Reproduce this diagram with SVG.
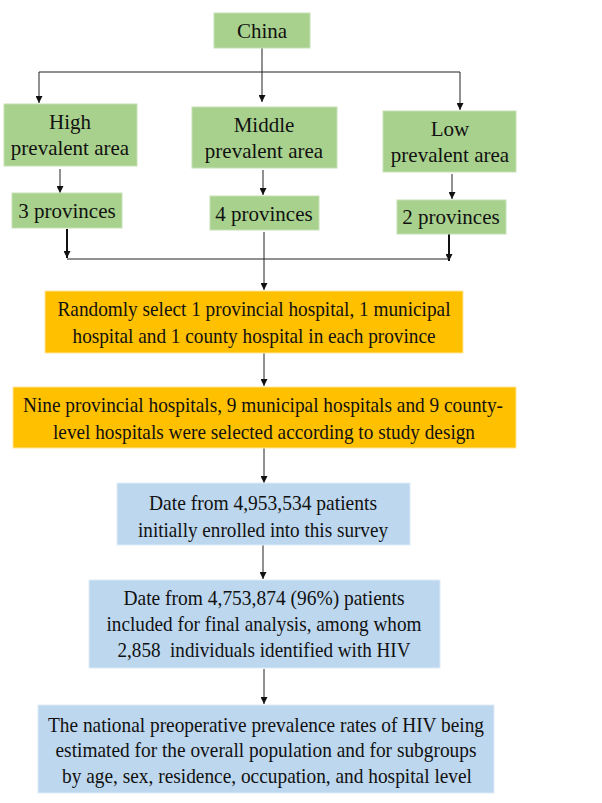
<svg xmlns="http://www.w3.org/2000/svg" width="602" height="803" viewBox="0 0 602 803">
<style>
text{font-family:"Liberation Serif","Times New Roman","DejaVu Serif",serif;font-size:21px;fill:#111;text-anchor:middle;white-space:pre}
.g{fill:#A9D18E;stroke:#C5E0B4;stroke-width:1}
.o{fill:#FFC000;stroke:#FFE699;stroke-width:1}
.b{fill:#BDD7EE;stroke:#DEEBF7;stroke-width:1}
.c{stroke:#222;stroke-width:1;fill:none}
.t{stroke:#111;stroke-width:2;fill:none}
</style>
<defs><marker id="a" viewBox="0 0 10 10" refX="10" refY="5" markerWidth="7" markerHeight="7" markerUnits="userSpaceOnUse" orient="auto"><path d="M0,0L10,5L0,10z" fill="#111"/></marker></defs>
<rect width="602" height="803" fill="#fff"/>
<g id="connectors">
<path class="c" d="M262,48V102" marker-end="url(#a)"/>
<path class="c" d="M39,72H460"/>
<path class="c" d="M39,72V103" marker-end="url(#a)"/>
<path class="c" d="M460,72V110" marker-end="url(#a)"/>
<path class="c" d="M60,169V193" marker-end="url(#a)"/>
<path class="c" d="M263,170V195" marker-end="url(#a)"/>
<path class="c" d="M452,174V199" marker-end="url(#a)"/>
<path class="t" d="M67,229V258" marker-end="url(#a)"/>
<path class="t" d="M449,234V261" marker-end="url(#a)"/>
<path class="c" d="M67,259H449"/>
<path class="c" d="M264,232V290" marker-end="url(#a)"/>
<path class="c" d="M264,353V386" marker-end="url(#a)"/>
<path class="c" d="M264,448V483" marker-end="url(#a)"/>
<path class="c" d="M263,545V579" marker-end="url(#a)"/>
<path class="c" d="M264,669V704" marker-end="url(#a)"/>
</g>
<g id="china"><rect class="g" x="214" y="13" width="96" height="35"/><text x="262" y="38">China</text></g>
<g id="high"><rect class="g" x="4" y="104" width="133" height="62"/><text x="70" y="129">High</text><text x="70" y="155">prevalent area</text></g>
<g id="middle"><rect class="g" x="192" y="107" width="145" height="61"/><text x="264" y="132">Middle</text><text x="264" y="158">prevalent area</text></g>
<g id="low"><rect class="g" x="383" y="111" width="133" height="61"/><text x="450" y="136">Low</text><text x="450" y="162">prevalent area</text></g>
<g id="p3"><rect class="g" x="12" y="193" width="110" height="35"/><text x="67" y="218">3 provinces</text></g>
<g id="p4"><rect class="g" x="210" y="196" width="109" height="34"/><text x="264" y="221">4 provinces</text></g>
<g id="p2"><rect class="g" x="397" y="200" width="109" height="34"/><text x="451" y="224">2 provinces</text></g>
<g id="select"><rect class="o" x="45" y="291" width="418" height="62"/>
<text x="254" y="316" textLength="393" lengthAdjust="spacingAndGlyphs">Randomly select 1 provincial hospital, 1 municipal</text>
<text x="254" y="343" textLength="363" lengthAdjust="spacingAndGlyphs">hospital and 1 county hospital in each province</text></g>
<g id="nine"><rect class="o" x="13" y="387" width="503" height="61"/>
<text x="263" y="412" textLength="480" lengthAdjust="spacingAndGlyphs">Nine provincial hospitals, 9 municipal hospitals and 9 county-</text>
<text x="264" y="439" textLength="422" lengthAdjust="spacingAndGlyphs">level hospitals were selected according to study design</text></g>
<g id="enrolled"><rect class="b" x="117" y="483" width="293" height="62"/>
<text x="263" y="510" textLength="228" lengthAdjust="spacingAndGlyphs">Date from 4,953,534 patients</text>
<text x="263" y="537" textLength="250" lengthAdjust="spacingAndGlyphs">initially enrolled into this survey</text></g>
<g id="final"><rect class="b" x="89" y="580" width="351" height="88"/>
<text x="264" y="605" textLength="281" lengthAdjust="spacingAndGlyphs">Date from 4,753,874 (96%) patients</text>
<text x="264" y="631" textLength="315" lengthAdjust="spacingAndGlyphs">included for final analysis, among whom</text>
<text x="264" y="657" textLength="293" lengthAdjust="spacingAndGlyphs" xml:space="preserve">2,858  individuals identified with HIV</text></g>
<g id="rates"><rect class="b" x="38" y="705" width="456" height="88"/>
<text x="266" y="732" textLength="436" lengthAdjust="spacingAndGlyphs">The national preoperative prevalence rates of HIV being</text>
<text x="266" y="757" textLength="421" lengthAdjust="spacingAndGlyphs">estimated for the overall population and for subgroups</text>
<text x="267" y="783" textLength="410" lengthAdjust="spacingAndGlyphs">by age, sex, residence, occupation, and hospital level</text></g>
</svg>
